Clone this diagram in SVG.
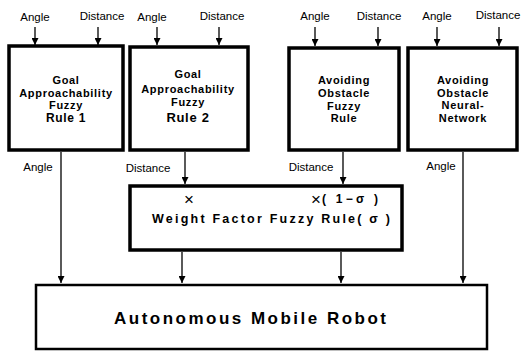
<svg xmlns="http://www.w3.org/2000/svg" width="525" height="356" viewBox="0 0 525 356">
<style>
  .box { fill: #fff; stroke: #000; stroke-width: 3.5; }
  .line { stroke: #000; stroke-width: 1.3; fill: none; }
  .lbl { font-family: "Liberation Sans", Arial, sans-serif; font-size: 11.5px; fill: #000; text-anchor: middle; }
  .bt { font-family: "Liberation Sans", Arial, sans-serif; font-size: 11px; font-weight: bold; letter-spacing: 0.7px; fill: #000; text-anchor: middle; }
  .big { font-family: "Liberation Sans", Arial, sans-serif; font-weight: bold; fill: #000; }
  .mul { font-family: "Liberation Sans", Arial, sans-serif; font-weight: normal; font-size: 17px; fill: #000; }
</style>
<defs>
  <marker id="arr" viewBox="0 0 10 10" refX="10" refY="5" markerWidth="7" markerHeight="7" orient="auto" markerUnits="userSpaceOnUse">
    <path d="M0,0 L10,5 L0,10 z" fill="#000"/>
  </marker>
</defs>
<rect width="525" height="356" fill="#fff"/>

<g id="connectors">
  <!-- inputs -->
  <line class="line" x1="35" y1="27" x2="35" y2="45" marker-end="url(#arr)"/>
  <line class="line" x1="98" y1="27" x2="98" y2="45" marker-end="url(#arr)"/>
  <line class="line" x1="157" y1="27" x2="157" y2="45" marker-end="url(#arr)"/>
  <line class="line" x1="219" y1="27" x2="219" y2="45" marker-end="url(#arr)"/>
  <line class="line" x1="315" y1="27" x2="315" y2="46" marker-end="url(#arr)"/>
  <line class="line" x1="378" y1="27" x2="378" y2="46" marker-end="url(#arr)"/>
  <line class="line" x1="437" y1="27" x2="437" y2="46" marker-end="url(#arr)"/>
  <line class="line" x1="499" y1="27" x2="499" y2="46" marker-end="url(#arr)"/>
  <!-- outputs -->
  <line class="line" x1="61" y1="152" x2="61" y2="283" marker-end="url(#arr)"/>
  <line class="line" x1="185" y1="152" x2="185" y2="184" marker-end="url(#arr)"/>
  <line class="line" x1="343" y1="152" x2="343" y2="184" marker-end="url(#arr)"/>
  <line class="line" x1="463" y1="152" x2="463" y2="283" marker-end="url(#arr)"/>
  <line class="line" x1="182" y1="252" x2="182" y2="283" marker-end="url(#arr)"/>
  <line class="line" x1="341" y1="252" x2="341" y2="283" marker-end="url(#arr)"/>
  <!-- labels -->
  <text class="lbl" x="35" y="21">Angle</text>
  <text class="lbl" x="102" y="20">Distance</text>
  <text class="lbl" x="152" y="21">Angle</text>
  <text class="lbl" x="222" y="20">Distance</text>
  <text class="lbl" x="315" y="20">Angle</text>
  <text class="lbl" x="379" y="20">Distance</text>
  <text class="lbl" x="437" y="20">Angle</text>
  <text class="lbl" x="498" y="19">Distance</text>
  <text class="lbl" x="38" y="171">Angle</text>
  <text class="lbl" x="148" y="172">Distance</text>
  <text class="lbl" x="311" y="171">Distance</text>
  <text class="lbl" x="441" y="170">Angle</text>
</g>

<g id="goal-rule-1">
  <rect class="box" x="9" y="46" width="114" height="104"/>
  <text class="bt" x="66" y="84">Goal</text>
  <text class="bt" x="66" y="97">Approachability</text>
  <text class="bt" x="66" y="109">Fuzzy</text>
  <text class="bt" x="66" y="122" style="font-size:12px">Rule 1</text>
</g>

<g id="goal-rule-2">
  <rect class="box" x="130" y="47" width="118" height="103"/>
  <text class="bt" x="188" y="78">Goal</text>
  <text class="bt" x="188" y="93">Approachability</text>
  <text class="bt" x="188" y="106">Fuzzy</text>
  <text class="bt" x="188" y="122" style="font-size:13px">Rule 2</text>
</g>

<g id="avoid-fuzzy">
  <rect class="box" x="289" y="48" width="110" height="102"/>
  <text class="bt" x="344" y="84">Avoiding</text>
  <text class="bt" x="344" y="97">Obstacle</text>
  <text class="bt" x="344" y="110">Fuzzy</text>
  <text class="bt" x="344" y="122">Rule</text>
</g>

<g id="avoid-nn">
  <rect class="box" x="408" y="48" width="109" height="102"/>
  <text class="bt" x="463" y="84">Avoiding</text>
  <text class="bt" x="463" y="97">Obstacle</text>
  <text class="bt" x="463" y="109">Neural-</text>
  <text class="bt" x="463" y="122">Network</text>
</g>

<g id="weight-factor">
  <rect class="box" x="130" y="186" width="272" height="64"/>
  <text class="mul" x="189" y="205" text-anchor="middle">×</text>
  <text class="mul" x="311" y="205">×</text>
  <text x="322" y="203" style="font-family:'Liberation Sans',Arial,sans-serif;font-size:12px;font-weight:bold" textLength="56" lengthAdjust="spacing">( 1−σ )</text>
  <text class="big" x="152" y="223" style="font-size:12.5px" textLength="238" lengthAdjust="spacing">Weight Factor Fuzzy Rule( σ )</text>
</g>

<g id="robot">
  <rect x="36" y="285" width="451" height="64" fill="#fff" stroke="#000" stroke-width="2.5"/>
  <text class="big" x="114" y="324" style="font-size:17px" textLength="272" lengthAdjust="spacing">Autonomous Mobile Robot</text>
</g>
</svg>
